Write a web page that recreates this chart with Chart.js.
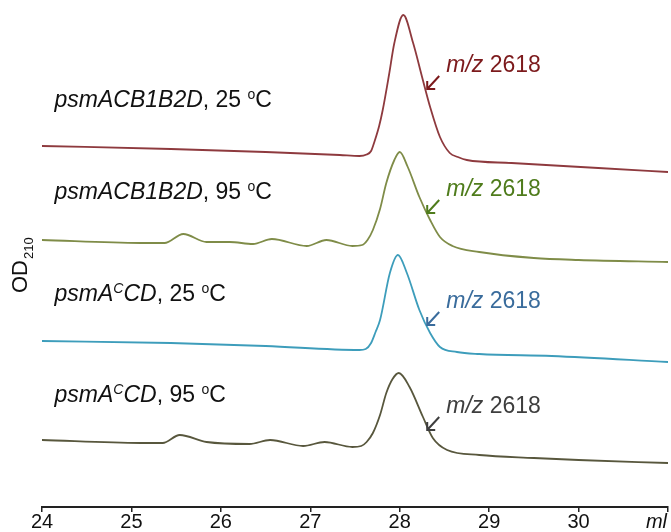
<!DOCTYPE html>
<html>
<head>
<meta charset="utf-8">
<script src="https://cdn.jsdelivr.net/npm/chart.js@4.4.1/dist/chart.umd.min.js"></script>
<style>
  body { margin: 0; background: #fff; }
  canvas { display: block; }
</style>
</head>
<body>
<canvas id="grafico" width="671" height="532"></canvas>
<script>
// elution volume (ml) and OD210 (arbitrary units, traces stacked)
const mlRed = [24.0, 25.44, 26.5, 27.33, 27.55, 27.63, 27.68, 27.72, 27.77, 27.81, 27.88, 27.94, 28.04, 28.15, 28.25, 28.34, 28.45, 28.56, 28.65, 28.75, 29.25, 30.22, 31.0];
const odRed = [361, 358, 355, 352, 351, 352.5, 356, 366, 381, 397, 432, 464, 492, 464, 430, 400, 370, 354, 350, 347, 344, 339, 335];

const mlGreen = [24.0, 25.1, 25.37, 25.58, 25.84, 26.1, 26.36, 26.57, 26.96, 27.18, 27.47, 27.58, 27.64, 27.7, 27.78, 27.85, 27.94, 28.0, 28.09, 28.22, 28.34, 28.45, 28.59, 28.89, 29.5, 30.0, 31.0];
const odGreen = [267, 264, 264, 273, 265, 265, 263, 268, 261, 267, 261, 262, 267, 277, 298, 324, 347, 355, 340, 310, 287, 270, 261, 255, 249, 247, 245];

const mlBlue = [24.0, 25.44, 26.5, 27.55, 27.62, 27.68, 27.73, 27.78, 27.89, 27.98, 28.08, 28.22, 28.34, 28.45, 28.64, 28.89, 29.7, 31.0];
const odBlue = [166, 164, 161, 157, 158, 164, 175, 187, 234, 252, 234, 197, 174, 160, 155, 153, 151, 145];

const mlDark = [24.0, 25.1, 25.35, 25.54, 25.84, 26.32, 26.55, 26.92, 27.16, 27.47, 27.57, 27.63, 27.7, 27.78, 27.85, 27.92, 27.99, 28.11, 28.26, 28.37, 28.53, 28.89, 29.5, 30.0, 31.0];
const odDark = [67, 64, 64, 72, 65, 63, 67, 61, 65, 60, 61, 65, 74, 92, 114, 128, 134, 120, 90, 69, 57, 52, 49, 47, 44];

const xTicks = [24, 25, 26, 27, 28, 29, 30];
const lineColors = ['#8e3a3e', '#7f8c48', '#3d9dbb', '#58573d'];
const mzColors = ['#7c1a1c', '#4f7c1c', '#3a6c9c', '#3e3e3e'];

// sample names: [text, style] where style i = italic, s = superscript
const sampleNames = [
    [['psmACB1B2D', 'i'], [', 25 '], ['o', 's'], ['C']],
    [['psmACB1B2D', 'i'], [', 95 '], ['o', 's'], ['C']],
    [['psmA', 'i'], ['C', 'si'], ['CD', 'i'], [', 25 '], ['o', 's'], ['C']],
    [['psmA', 'i'], ['C', 'si'], ['CD', 'i'], [', 95 '], ['o', 's'], ['C']]
];
const namePos = [[24.14, 400], [24.14, 308], [24.14, 206], [24.14, 105]];
const mzText = ['m/z', ' 2618'];
const mzPos = [[28.52, 435], [28.52, 311], [28.52, 199], [28.52, 94]];

const FONT = '"Liberation Sans", Arial, sans-serif';

const pts = (xs, ys) => xs.map((x, i) => ({x: x, y: ys[i]}));

const rich = (ctx, x, y, parts, color) => {
    ctx.fillStyle = color;
    ctx.textBaseline = 'alphabetic';
    ctx.textAlign = 'left';
    parts.forEach(p => {
        const st = p[1] || '';
        const it = st.includes('i') ? 'italic ' : '';
        const sup = st.includes('s');
        ctx.font = it + (sup ? '14px ' : '23px ') + FONT;
        ctx.fillText(p[0], x, sup ? y - 8 : y);
        x += ctx.measureText(p[0]).width;
    });
};

const anotacoes = {
    id: 'anotacoes',
    afterDraw: chart => {
        const ctx = chart.ctx;
        const xs = chart.scales.x, ys = chart.scales.y;
        ctx.save();
        sampleNames.forEach((n, i) => {
            rich(ctx, xs.getPixelForValue(namePos[i][0]), ys.getPixelForValue(namePos[i][1]), n, '#111');
        });
        mzPos.forEach((p, i) => {
            const x = xs.getPixelForValue(p[0]), y = ys.getPixelForValue(p[1]);
            ctx.fillStyle = mzColors[i];
            ctx.font = 'italic 23px ' + FONT;
            ctx.textAlign = 'left';
            ctx.textBaseline = 'alphabetic';
            ctx.fillText(mzText[0], x, y);
            const w = ctx.measureText(mzText[0]).width;
            ctx.font = '23px ' + FONT;
            ctx.fillText(mzText[1], x + w, y);
            // seta
            const x0 = x - 7, y0 = y + 4, x1 = x - 19, y1 = y + 17;
            ctx.strokeStyle = mzColors[i];
            ctx.lineWidth = 2;
            ctx.beginPath();
            ctx.moveTo(x0, y0);
            ctx.lineTo(x1, y1);
            ctx.moveTo(x1, y1 - 8);
            ctx.lineTo(x1, y1);
            ctx.lineTo(x1 + 8, y1);
            ctx.stroke();
        });
        // y label OD210
        ctx.fillStyle = '#111';
        ctx.translate(27, 293);
        ctx.rotate(-Math.PI / 2);
        ctx.font = '22px ' + FONT;
        ctx.fillText('OD', 0, 0);
        const wd = ctx.measureText('OD').width;
        ctx.font = '13px ' + FONT;
        ctx.fillText('210', wd + 1, 6);
        ctx.restore();
        // unidade no fim do eixo
        ctx.save();
        ctx.fillStyle = '#111';
        ctx.font = 'italic 20px ' + FONT;
        ctx.textAlign = 'right';
        ctx.textBaseline = 'middle';
        ctx.fillText('ml', xs.right - 1, xs.top + 15);
        ctx.restore();
    }
};

const ds = (xs, ys, c) => ({
    data: pts(xs, ys),
    borderColor: c,
    borderWidth: 1.8,
    pointRadius: 0,
    fill: false,
    cubicInterpolationMode: 'monotone'
});

const grafico = new Chart(document.getElementById('grafico'), {
    type: 'line',
    data: {
        datasets: [
            ds(mlRed, odRed, lineColors[0]),
            ds(mlGreen, odGreen, lineColors[1]),
            ds(mlBlue, odBlue, lineColors[2]),
            ds(mlDark, odDark, lineColors[3])
        ]
    },
    options: {
        responsive: false,
        animation: false,
        layout: { padding: { left: 42, right: 3, top: 0, bottom: 0 } },
        plugins: { legend: { display: false }, tooltip: { enabled: false } },
        scales: {
            x: {
                type: 'linear',
                min: 24,
                max: 31,
                afterBuildTicks: s => { s.ticks = xTicks.concat([31]).map(v => ({value: v})); },
                ticks: {
                    color: '#111',
                    padding: 0,
                    maxRotation: 0,
                    autoSkip: false,
                    font: { size: 20, family: FONT, lineHeight: 1 },
                    callback: v => (xTicks.includes(v) ? String(v) : '')
                },
                grid: { drawOnChartArea: false, tickLength: 5, color: '#222', lineWidth: 1.5 },
                border: { color: '#222', width: 2 }
            },
            y: {
                display: false,
                min: 0,
                max: 507
            }
        }
    },
    plugins: [anotacoes]
});
</script>
</body>
</html>
